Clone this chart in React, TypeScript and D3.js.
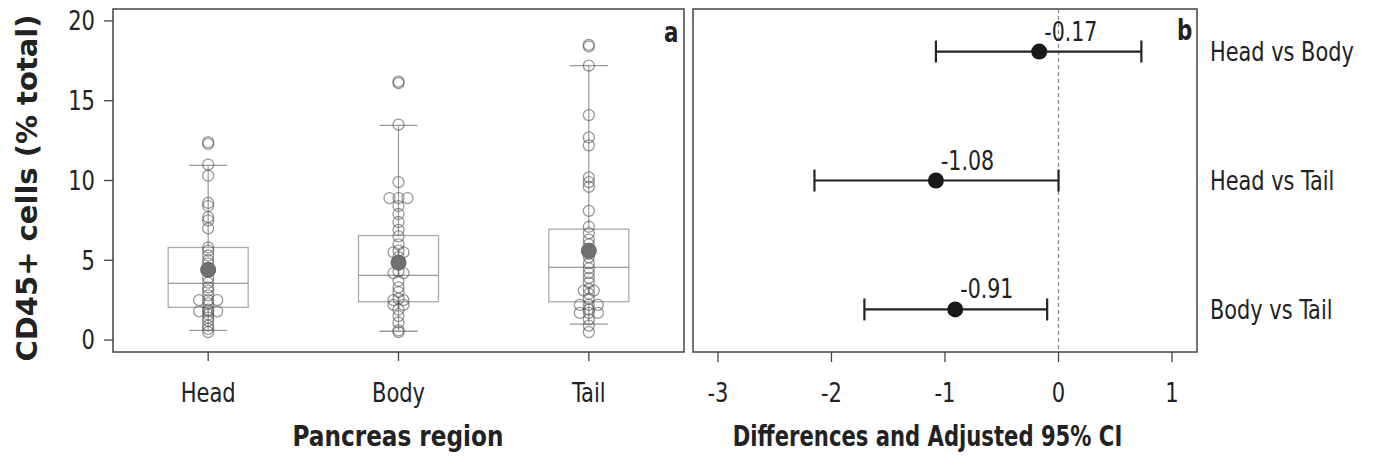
import React from 'react';
import * as d3 from 'd3';

// panel a: CD45+ cells by pancreas region
const regions = ['Head', 'Body', 'Tail'];
const headValues = [12.4, 12.3, 11.0, 10.3, 8.6, 8.4, 7.7, 7.5, 7.0, 5.8, 5.6, 5.3, 5.0, 4.8, 4.5, 4.4, 4.3, 3.9, 3.6, 3.3, 3.1, 2.8, 2.5, 2.5, 2.5, 2.3, 1.9, 1.8, 1.8, 1.8, 1.6, 1.4, 1.2, 0.9, 0.7, 0.5];
const bodyValues = [16.2, 16.1, 13.5, 9.9, 8.9, 8.9, 8.9, 8.4, 7.9, 7.4, 6.9, 6.5, 6.0, 5.6, 5.5, 5.5, 5.2, 4.8, 4.3, 4.2, 4.2, 3.7, 3.3, 3.0, 2.6, 2.5, 2.5, 2.2, 2.2, 1.9, 1.5, 1.1, 0.6, 0.5];
const tailValues = [18.5, 18.4, 17.2, 14.1, 12.7, 12.2, 10.2, 9.9, 9.6, 8.1, 7.1, 6.7, 6.3, 6.0, 5.7, 5.4, 5.2, 4.8, 4.5, 4.2, 3.9, 3.6, 3.2, 3.1, 3.1, 2.9, 2.6, 2.2, 2.2, 2.2, 1.9, 1.7, 1.7, 1.7, 1.3, 0.9, 0.5];
const q1 = [2.05, 2.4, 2.4];
const medians = [3.55, 4.05, 4.55];
const q3 = [5.8, 6.55, 6.95];
const whiskerLow = [0.6, 0.55, 1.0];
const whiskerHigh = [10.95, 13.45, 17.2];
const means = [4.4, 4.85, 5.6];
const yTicks = [0, 5, 10, 15, 20];

// panel b: pairwise differences
const comparisons = ['Head vs Body', 'Head vs Tail', 'Body vs Tail'];
const differences = [-0.17, -1.08, -0.91];
const ciLow = [-1.08, -2.15, -1.71];
const ciHigh = [0.73, 0.0, -0.1];
const xTicks = [-3, -2, -1, 0, 1];

const cond = "'DejaVu Sans Condensed', 'DejaVu Sans', sans-serif";

// spread tied values sideways like an individual value plot
const spread = (vals: number[]) => {
  const seen = new Map<number, number>();
  const offs = [0, -9, 9, -18, 18];
  return vals.map((v) => {
    const k = seen.get(v) || 0;
    seen.set(v, k + 1);
    const total = vals.filter((u) => u === v).length;
    const off = total === 2 ? [-5, 5][k] : offs[k] || 0;
    return { v, off };
  });
};

// squeezed text, the original uses a condensed face
const Txt = ({ x, y, sx = 0.9, size = 26, anchor = 'start', bold = false, dy = '0', children }: any) => (
  <text
    transform={`translate(${x},${y}) scale(${sx},1)`}
    dy={dy}
    textAnchor={anchor}
    fontFamily={cond}
    fontWeight={bold ? 'bold' : 'normal'}
    fontSize={size}
    fill="#222"
  >
    {children}
  </text>
);

const App = () => {
  const width = 1376;
  const height = 466;
  const aBox = { left: 113, right: 684, top: 9, bottom: 352 };
  const bBox = { left: 693, right: 1197, top: 9, bottom: 352 };

  const x = d3.scalePoint().domain(regions).range([aBox.left, aBox.right]).padding(0.5);
  const y = d3.scaleLinear().domain([-0.75, 20.75]).range([aBox.bottom, aBox.top]);

  const xb = d3.scaleLinear().domain([-3.22, 1.22]).range([bBox.left, bBox.right]);
  const yb = d3.scalePoint().domain(comparisons).range([bBox.top, bBox.bottom]).padding(0.33);

  const groups = [headValues, bodyValues, tailValues];
  const boxW = 80;
  const capW = 19;

  return (
    <svg width={width} height={height} style={{ position: 'absolute', left: 0, top: 0, background: '#fff' }}>
      {/* panel a */}
      <rect x={aBox.left} y={aBox.top} width={aBox.right - aBox.left} height={aBox.bottom - aBox.top} fill="none" stroke="#444" strokeWidth={1.5} />
      {yTicks.map((t) => (
        <g key={t}>
          <line x1={aBox.left - 9} x2={aBox.left} y1={y(t)} y2={y(t)} stroke="#444" strokeWidth={1.3} />
          <Txt x={aBox.left - 18} y={y(t)} dy="0.36em" anchor="end">{t}</Txt>
        </g>
      ))}
      {regions.map((r, i) => {
        const cx = x(r) as number;
        return (
          <g key={r}>
            <line x1={cx} x2={cx} y1={aBox.bottom} y2={aBox.bottom + 9} stroke="#444" strokeWidth={1.3} />
            <Txt x={cx} y={393} dy="0.36em" anchor="middle">{r}</Txt>
            <line x1={cx} x2={cx} y1={y(whiskerHigh[i])} y2={y(q3[i])} stroke="#999" strokeWidth={1.2} />
            <line x1={cx} x2={cx} y1={y(q1[i])} y2={y(whiskerLow[i])} stroke="#999" strokeWidth={1.2} />
            <line x1={cx - capW} x2={cx + capW} y1={y(whiskerHigh[i])} y2={y(whiskerHigh[i])} stroke="#999" strokeWidth={1.3} />
            <line x1={cx - capW} x2={cx + capW} y1={y(whiskerLow[i])} y2={y(whiskerLow[i])} stroke="#999" strokeWidth={1.3} />
            <rect x={cx - boxW / 2} y={y(q3[i])} width={boxW} height={y(q1[i]) - y(q3[i])} fill="none" stroke="#aaa" strokeWidth={1.3} />
            <line x1={cx - boxW / 2} x2={cx + boxW / 2} y1={y(medians[i])} y2={y(medians[i])} stroke="#999" strokeWidth={1.3} />
            {spread(groups[i]).map((p, j) => (
              <circle key={j} cx={cx + p.off} cy={y(p.v)} r={5.5} fill="none" stroke="#555" strokeOpacity={0.6} strokeWidth={1.3} />
            ))}
            <circle cx={cx} cy={y(means[i])} r={7.5} fill="#707070" stroke="#666" />
          </g>
        );
      })}
      <Txt x={aBox.right - 20} y={42} bold size={28} sx={0.85}>a</Txt>
      <Txt x={398} y={446} anchor="middle" bold size={28} sx={0.92}>Pancreas region</Txt>
      <text transform="translate(37, 188) rotate(-90)" textAnchor="middle" fontFamily="'DejaVu Sans', sans-serif" fontWeight="bold" fontSize={29} fill="#222">CD45+ cells (% total)</text>

      {/* panel b */}
      <rect x={bBox.left} y={bBox.top} width={bBox.right - bBox.left} height={bBox.bottom - bBox.top} fill="none" stroke="#444" strokeWidth={1.5} />
      <line x1={xb(0)} x2={xb(0)} y1={bBox.top} y2={bBox.bottom} stroke="#888" strokeWidth={1.2} strokeDasharray="4,3" />
      {xTicks.map((t) => (
        <g key={t}>
          <line x1={xb(t)} x2={xb(t)} y1={bBox.bottom} y2={bBox.bottom + 10} stroke="#444" strokeWidth={1.3} />
          <Txt x={xb(t)} y={393} dy="0.36em" anchor="middle">{t}</Txt>
        </g>
      ))}
      {comparisons.map((c, i) => {
        const cy = yb(c) as number;
        return (
          <g key={c}>
            <line x1={xb(ciLow[i])} x2={xb(ciHigh[i])} y1={cy} y2={cy} stroke="#222" strokeWidth={2.2} />
            <line x1={xb(ciLow[i])} x2={xb(ciLow[i])} y1={cy - 11} y2={cy + 11} stroke="#222" strokeWidth={2.2} />
            <line x1={xb(ciHigh[i])} x2={xb(ciHigh[i])} y1={cy - 11} y2={cy + 11} stroke="#222" strokeWidth={2.2} />
            <circle cx={xb(differences[i])} cy={cy} r={8} fill="#1a1a1a" />
            <Txt x={xb(differences[i]) + 5} y={cy - 11} sx={0.88}>{differences[i].toFixed(2)}</Txt>
            <Txt x={bBox.right + 13} y={cy} dy="0.36em" size={27} sx={0.86}>{c}</Txt>
          </g>
        );
      })}
      <Txt x={bBox.right - 20} y={40} bold size={28} sx={0.85}>b</Txt>
      <Txt x={(733 + 1122) / 2} y={446} anchor="middle" bold size={28} sx={0.84}>Differences and Adjusted 95% CI</Txt>
    </svg>
  );
};

export default App;
